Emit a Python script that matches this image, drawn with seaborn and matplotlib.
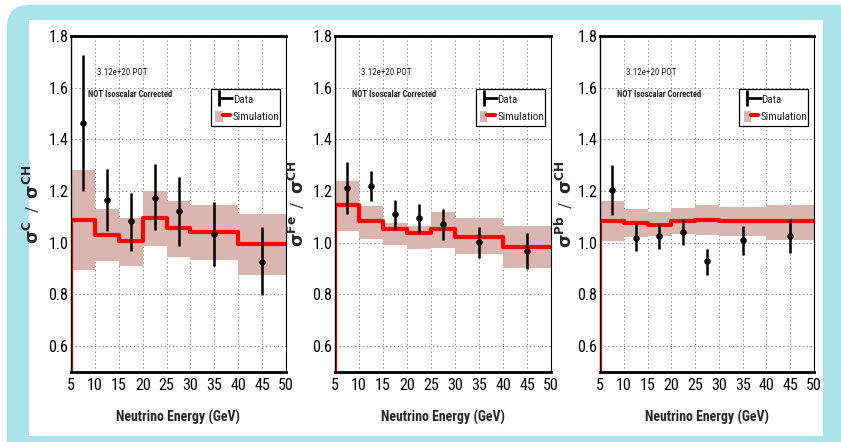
import matplotlib
matplotlib.use("Agg")
import matplotlib.pyplot as plt
import seaborn as sns
import numpy as np
import pandas as pd
from matplotlib.patches import FancyBboxPatch, Rectangle, Patch
from matplotlib.lines import Line2D
from matplotlib.transforms import IdentityTransform
from matplotlib.ticker import MultipleLocator
from matplotlib.legend_handler import HandlerTuple
from matplotlib import font_manager

# ---------------- data ----------------
bin_edges = [5, 10, 15, 20, 25, 30, 40, 50]
x_points = [7.5, 12.5, 17.5, 22.5, 27.5, 35, 45]

sim_C = [1.088, 1.031, 1.007, 1.096, 1.056, 1.043, 0.995]
band_lo_C = [0.893, 0.929, 0.910, 0.986, 0.945, 0.932, 0.874]
band_hi_C = [1.280, 1.132, 1.097, 1.200, 1.161, 1.145, 1.112]
data_C = [1.463, 1.166, 1.083, 1.175, 1.121, 1.035, 0.925]
err_lo_C = [1.199, 1.045, 0.968, 1.048, 0.986, 0.912, 0.796]
err_hi_C = [1.725, 1.284, 1.192, 1.303, 1.254, 1.158, 1.061]

sim_Fe = [1.146, 1.084, 1.052, 1.039, 1.052, 1.023, 0.984]
band_lo_Fe = [1.045, 1.014, 0.991, 0.976, 0.981, 0.955, 0.903]
band_hi_Fe = [1.239, 1.143, 1.078, 1.066, 1.119, 1.094, 1.066]
data_Fe = [1.210, 1.220, 1.112, 1.094, 1.071, 1.004, 0.970]
err_lo_Fe = [1.110, 1.161, 1.053, 1.036, 1.010, 0.942, 0.900]
err_hi_Fe = [1.311, 1.279, 1.165, 1.150, 1.130, 1.061, 1.038]

sim_Pb = [1.084, 1.076, 1.070, 1.083, 1.090, 1.085, 1.083]
band_lo_Pb = [1.006, 1.022, 1.025, 1.035, 1.031, 1.028, 1.009]
band_hi_Pb = [1.160, 1.129, 1.119, 1.135, 1.146, 1.138, 1.148]
data_Pb = [1.205, 1.019, 1.027, 1.041, 0.928, 1.009, 1.028]
err_lo_Pb = [1.106, 0.968, 0.977, 0.990, 0.877, 0.951, 0.960]
err_hi_Pb = [1.300, 1.076, 1.071, 1.093, 0.977, 1.065, 1.093]

targets = ["C", "Fe", "Pb"]
x_ticks = [5, 10, 15, 20, 25, 30, 35, 40, 45, 50]
y_ticks = [0.6, 0.8, 1.0, 1.2, 1.4, 1.6, 1.8]
y_tick_labels = ["0.6", "0.8", "1.0", "1.2", "1.4", "1.6", "1.8"]
pot_text = "3.12e+20 POT"
iso_text = "NOT Isoscalar Corrected"
x_label = "Neutrino Energy (GeV)"
legend_labels = ["Data", "Simulation"]

panels = {
    "C": (sim_C, band_lo_C, band_hi_C, data_C, err_lo_C, err_hi_C),
    "Fe": (sim_Fe, band_lo_Fe, band_hi_Fe, data_Fe, err_lo_Fe, err_hi_Fe),
    "Pb": (sim_Pb, band_lo_Pb, band_hi_Pb, data_Pb, err_lo_Pb, err_hi_Pb),
}

# ---------------- style ----------------
sns.set_theme(style="white")
installed = {f.name for f in font_manager.fontManager.ttflist}
cands = ["Roboto Condensed", "Liberation Sans Narrow", "Arial Narrow", "Roboto", "Liberation Sans"]
NARROW = [c for c in cands if c in installed] + ["DejaVu Sans"]
plt.rcParams["font.family"] = NARROW
plt.rcParams["mathtext.fontset"] = "custom"
plt.rcParams["mathtext.rm"] = "DejaVu Sans:bold"
plt.rcParams["mathtext.bf"] = "DejaVu Sans:bold"
plt.rcParams["mathtext.default"] = "rm"

RED = "#ff0000"
BAND = "#dbb5b0"
BLUE = "#aae4ea"

W, H = 841, 442
fig = plt.figure(figsize=(W / 100, H / 100), dpi=100)
fig.patch.set_facecolor("white")

bg = FancyBboxPatch((7, -30), 880, 442 - 5 + 30, boxstyle="round,pad=0,rounding_size=22",
                    transform=IdentityTransform(), facecolor=BLUE, edgecolor="none", zorder=-10)
fig.patches.append(bg)
inner = Rectangle((29, 442 - 436), 823 - 29, 436 - 20, transform=IdentityTransform(),
                  facecolor="white", edgecolor="none", zorder=-9)
fig.patches.append(inner)

lefts = [71, 335, 600]
widths = [215, 216, 214]
ylabel_x = [-0.135, -0.13, -0.117]
top_px, bot_px = 36, 372

edges = np.array(bin_edges, dtype=float)

for i, tgt in enumerate(targets):
    sim, blo, bhi, dat, elo, ehi = panels[tgt]
    ax = fig.add_axes([lefts[i] / W, 1 - bot_px / H, widths[i] / W, (bot_px - top_px) / H])
    ax.set_facecolor("none")
    ax.set_xlim(5, 50)
    ax.set_ylim(0.5, 1.8)

    for xv in x_ticks[1:-1]:
        ax.axvline(xv, color="#8a8a8a", lw=0.7, ls=(0, (1.5, 2.5)), zorder=0)
    for yv in y_ticks[:-1]:
        ax.axhline(yv, color="#8a8a8a", lw=0.7, ls=(0, (1.5, 2.5)), zorder=0)

    ax.fill_between(edges, list(blo) + [blo[-1]], list(bhi) + [bhi[-1]], step="post",
                    facecolor=BAND, edgecolor="none", zorder=1)

    step_df = pd.DataFrame({"E": np.concatenate([[edges[0]], edges]),
                            "r": np.concatenate([[ax.get_ylim()[0]], sim, [sim[-1]]])})
    sns.lineplot(data=step_df, x="E", y="r", ax=ax, color=RED, lw=3.0,
                 drawstyle="steps-post", estimator=None, sort=False, zorder=3)

    dat_a = np.array(dat)
    yerr = np.vstack([dat_a - np.array(elo), np.array(ehi) - dat_a])
    ax.errorbar(x_points, dat_a, yerr=yerr, fmt="none", ecolor="black", elinewidth=1.8,
                capsize=0, zorder=4)
    sns.scatterplot(x=x_points, y=dat, ax=ax, color="black", s=22, edgecolor="black",
                    linewidth=0, zorder=5)

    ax.set_xticks(x_ticks)
    ax.set_xticklabels([str(t) for t in x_ticks])
    ax.set_yticks(y_ticks)
    ax.set_yticklabels(y_tick_labels)
    ax.xaxis.set_minor_locator(MultipleLocator(1))
    ax.yaxis.set_minor_locator(MultipleLocator(0.05))
    ax.tick_params(axis="both", which="both", direction="in", top=False, right=False,
                   colors="black", labelsize=11.5)
    ax.tick_params(axis="x", which="major", length=8, width=0.8, pad=4)
    ax.tick_params(axis="x", which="minor", length=4, width=0.7)
    ax.tick_params(axis="y", which="major", length=8, width=0.8, pad=2)
    ax.tick_params(axis="y", which="minor", length=4, width=0.7)
    ax.spines["top"].set_linewidth(2.0)
    ax.spines["bottom"].set_linewidth(2.0)
    ax.spines["left"].set_linewidth(1.0)
    ax.spines["right"].set_linewidth(0.8)
    for s in ax.spines.values():
        s.set_color("black")
        s.set_zorder(6)

    ax.set_xlabel(x_label, fontsize=10, fontweight="bold")
    ax.xaxis.set_label_coords(0.5, -0.112)
    ax.set_ylabel(r"$\sigma^{%s}$  /  $\sigma^{CH}$" % tgt, fontsize=12.5)
    ax.yaxis.set_label_coords(ylabel_x[i], 0.5)

    ax.text(10.4, 1.657, pot_text, fontsize=6.5, va="center", ha="left", zorder=7)
    ax.text(8.6, 1.572, iso_text, fontsize=6.2, fontweight="bold",
            va="center", ha="left", zorder=7)

    h_data = (Line2D([], [], color="black", marker="|", markersize=11, mew=2, ls="none"),
              Line2D([], [], color="black", marker="_", markersize=10, mew=2, ls="none"))
    h_sim = (Patch(facecolor=BAND, edgecolor="none"), Line2D([], [], color=RED, lw=3))
    leg = ax.legend([h_data, h_sim], legend_labels, loc="upper left",
                    bbox_to_anchor=(0.651, 0.973, 0.321, -0.131), mode="expand",
                    handler_map={tuple: HandlerTuple(ndivide=None, pad=0)},
                    fontsize=8, frameon=True, fancybox=False, framealpha=1,
                    edgecolor="black", handlelength=1.3, handleheight=1.2,
                    handletextpad=0.25, borderpad=0.4, labelspacing=0.5, borderaxespad=0)
    leg.get_frame().set_linewidth(0.9)
    leg.set_zorder(8)

fig.savefig("out.png", dpi=100, facecolor=fig.get_facecolor())
